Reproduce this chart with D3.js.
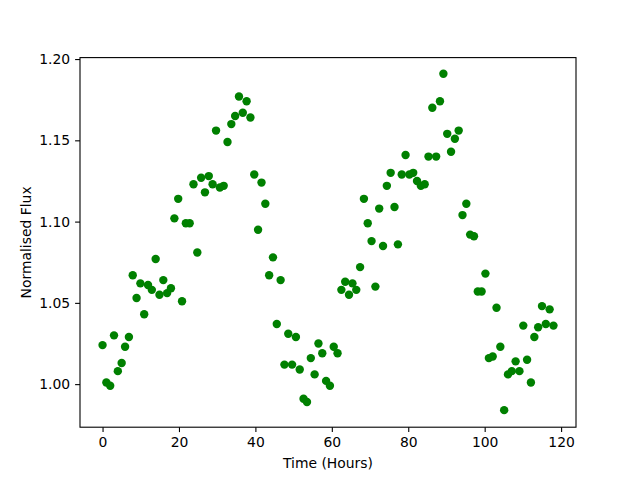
<html>
<head>
<meta charset="utf-8">
<title>Normalised Flux</title>
<script src="https://d3js.org/d3.v7.min.js" type="text/javascript"></script>
<style type="text/css">
    body { margin: 0; background: #fff; }
    text { font-family: "DejaVu Sans", sans-serif; font-size: 13.9px; fill: #000; }
    .axis path, .axis line { stroke: #000; stroke-width: 1.1px; }
    .dot { fill: #008000; }
</style>
</head>
<body>
<div id="graph"></div>

<script type="text/javascript">
// time of each reading (hours)
var hours = [0,1.0,2.0,3.0,4.0,5.0,5.9,6.9,7.9,8.9,9.9,10.9,11.9,12.9,13.9,14.9,15.9,16.9,17.9,18.8,
    19.8,20.8,21.8,22.8,23.8,24.8,25.8,26.8,27.8,28.8,29.7,30.7,31.7,32.7,33.7,34.7,35.7,36.7,37.7,38.7,
    39.7,40.7,41.6,42.6,43.6,44.6,45.6,46.6,47.6,48.6,49.6,50.6,51.6,52.6,53.5,54.5,55.5,56.5,57.5,58.5,
    59.5,60.5,61.5,62.5,63.5,64.5,65.4,66.4,67.4,68.4,69.4,70.4,71.4,72.4,73.4,74.4,75.4,76.4,77.3,78.3,
    79.3,80.3,81.3,82.3,83.3,84.3,85.3,86.3,87.3,88.3,89.2,90.2,91.2,92.2,93.2,94.2,95.2,96.2,97.2,98.2,
    99.2,100.2,101.1,102.1,103.1,104.1,105.1,106.1,107.1,108.1,109.1,110.1,111.1,112.1,113.0,114.0,115.0,116.0,117.0,118.0];

// normalised flux at each time
var flux = [1.024,1.001,0.999,1.030,1.008,1.013,1.023,1.029,1.067,1.053,1.062,1.043,1.061,1.058,1.077,1.055,1.064,1.056,1.059,1.102,
    1.114,1.051,1.099,1.099,1.123,1.081,1.127,1.118,1.128,1.123,1.156,1.121,1.122,1.149,1.160,1.165,1.177,1.167,1.174,1.164,
    1.129,1.095,1.124,1.111,1.067,1.078,1.037,1.064,1.012,1.031,1.012,1.029,1.009,0.991,0.989,1.016,1.006,1.025,1.019,1.002,
    0.999,1.023,1.019,1.058,1.063,1.055,1.062,1.058,1.072,1.114,1.099,1.088,1.060,1.108,1.085,1.122,1.130,1.109,1.086,1.129,
    1.141,1.129,1.130,1.125,1.122,1.123,1.140,1.170,1.140,1.174,1.191,1.154,1.143,1.151,1.156,1.104,1.111,1.092,1.091,1.057,
    1.057,1.068,1.016,1.017,1.047,1.023,0.984,1.006,1.008,1.014,1.008,1.036,1.015,1.001,1.029,1.035,1.048,1.037,1.046,1.036];

var xTicks = [0, 20, 40, 60, 80, 100, 120];
var yTicks = [1.00, 1.05, 1.10, 1.15, 1.20];

var width = 640, height = 480;
var margin = {top: 57.6, right: 64, bottom: 52.8, left: 80};

var svg = d3.select("#graph").append("svg")
    .attr("width", width)
    .attr("height", height);

var x = d3.scaleLinear().domain([-5.9, 123.9]).range([margin.left, width - margin.right]);
var y = d3.scaleLinear().domain([0.9735, 1.2009]).range([height - margin.bottom, margin.top]);

var xAxis = d3.axisBottom(x).tickValues(xTicks).tickSize(4.9).tickPadding(4.9).tickFormat(d3.format("d"));
var yAxis = d3.axisLeft(y).tickValues(yTicks).tickSize(4.9).tickPadding(4.9).tickFormat(d3.format(".2f"));

svg.append("g").attr("class", "axis")
    .attr("transform", "translate(0," + (height - margin.bottom) + ")")
    .call(xAxis)
    .call(function (g) { g.select(".domain").remove(); });

svg.append("g").attr("class", "axis")
    .attr("transform", "translate(" + margin.left + ",0)")
    .call(yAxis)
    .call(function (g) { g.select(".domain").remove(); });

svg.selectAll(".axis text").style("font-size", "13.9px").style("font-family", "DejaVu Sans, sans-serif");

// frame
svg.append("rect")
    .attr("x", margin.left).attr("y", margin.top)
    .attr("width", width - margin.left - margin.right)
    .attr("height", height - margin.top - margin.bottom)
    .style("fill", "none").style("stroke", "#000").style("stroke-width", "1.1px");

var points = hours.map(function (h, i) { return {t: h, f: flux[i]}; });

svg.selectAll(".dot").data(points).enter().append("circle")
    .attr("class", "dot")
    .attr("cx", function (d) { return x(d.t); })
    .attr("cy", function (d) { return y(d.f); })
    .attr("r", 4.2);

svg.append("text")
    .attr("x", (margin.left + width - margin.right) / 2)
    .attr("y", 468)
    .attr("text-anchor", "middle")
    .text("Time (Hours)");

svg.append("text")
    .attr("transform", "translate(31," + (margin.top + (height - margin.top - margin.bottom) / 2) + ") rotate(-90)")
    .attr("text-anchor", "middle")
    .text("Normalised Flux");
</script>
</body>
</html>
